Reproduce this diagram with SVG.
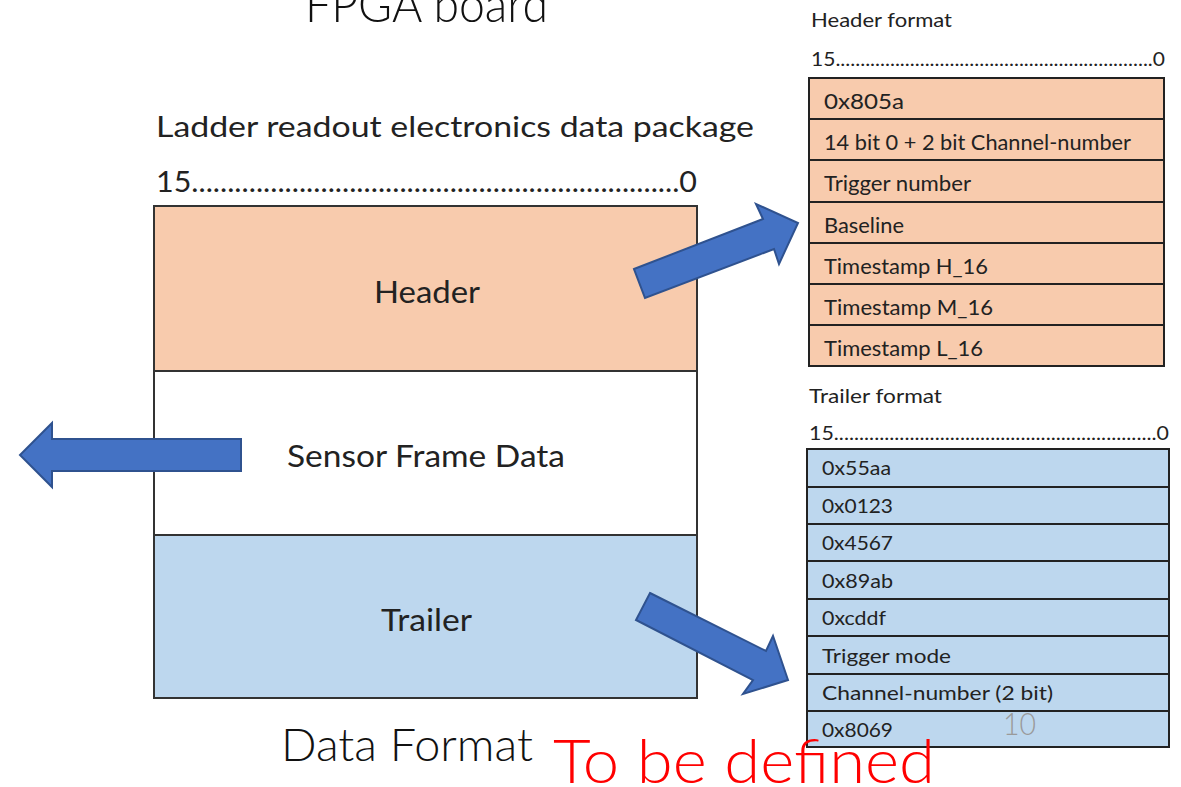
<svg xmlns="http://www.w3.org/2000/svg" width="1181" height="787" viewBox="0 0 1181 787">
<style>
.t{font-family:Lato,"Noto Sans","Liberation Sans",sans-serif;fill:#222}
.lt{font-family:Lato,"Noto Sans","Liberation Sans",sans-serif;font-weight:300;fill:#111}
.box{stroke:#333;stroke-width:2}
.hdr{fill:#F8CBAD}
.trl{fill:#BDD7EE}
.row{stroke:#222;stroke-width:2}
.arrow{fill:#4472C4;stroke:#2F528F;stroke-width:2;stroke-linejoin:miter}
.cell{font-size:21px}
.tcell{font-size:20px}
</style>
<rect width="1181" height="787" fill="#fff"/>
<text class="lt" x="305" y="22" font-size="50" textLength="243" lengthAdjust="spacingAndGlyphs">FPGA board</text>

<g id="package">
<text class="t" x="156" y="137" font-size="29" textLength="598" lengthAdjust="spacingAndGlyphs">Ladder readout electronics data package</text>
<text class="t" x="156" y="192" font-size="29" textLength="541" lengthAdjust="spacingAndGlyphs">15....................................................................0</text>
<g id="header">
<rect class="box hdr" x="154" y="206" width="543" height="165"/>
<text class="t" x="374" y="303" font-size="30" textLength="106" lengthAdjust="spacingAndGlyphs">Header</text>
</g>
<g id="sensor">
<rect class="box" fill="#fff" x="154" y="371" width="543" height="164"/>
<text class="t" x="287" y="467" font-size="30" textLength="278" lengthAdjust="spacingAndGlyphs">Sensor Frame Data</text>
</g>
<g id="trailer">
<rect class="box trl" x="154" y="535" width="543" height="163"/>
<text class="t" x="381" y="631" font-size="30" textLength="91" lengthAdjust="spacingAndGlyphs">Trailer</text>
</g>
</g>

<g id="header-format">
<text class="t" x="811" y="27" font-size="20" textLength="141" lengthAdjust="spacingAndGlyphs">Header format</text>
<text class="t" x="811" y="66" font-size="20" textLength="354" lengthAdjust="spacingAndGlyphs">15................................................................0</text>
<rect class="row hdr" x="809" y="78" width="355" height="41"/>
<rect class="row hdr" x="809" y="119" width="355" height="41"/>
<rect class="row hdr" x="809" y="160" width="355" height="42"/>
<rect class="row hdr" x="809" y="202" width="355" height="41"/>
<rect class="row hdr" x="809" y="243" width="355" height="41"/>
<rect class="row hdr" x="809" y="284" width="355" height="41"/>
<rect class="row hdr" x="809" y="325" width="355" height="41"/>
<text class="t cell" x="824" y="109" textLength="80" lengthAdjust="spacingAndGlyphs">0x805a</text>
<text class="t cell" x="824" y="150" textLength="307" lengthAdjust="spacingAndGlyphs">14 bit 0 + 2 bit Channel-number</text>
<text class="t cell" x="824" y="191" textLength="147" lengthAdjust="spacingAndGlyphs">Trigger number</text>
<text class="t cell" x="824" y="233" textLength="80" lengthAdjust="spacingAndGlyphs">Baseline</text>
<text class="t cell" x="824" y="274" textLength="164" lengthAdjust="spacingAndGlyphs">Timestamp H_16</text>
<text class="t cell" x="824" y="315" textLength="169" lengthAdjust="spacingAndGlyphs">Timestamp M_16</text>
<text class="t cell" x="824" y="356" textLength="159" lengthAdjust="spacingAndGlyphs">Timestamp L_16</text>
</g>

<g id="trailer-format">
<text class="t" x="809" y="403" font-size="20" textLength="133" lengthAdjust="spacingAndGlyphs">Trailer format</text>
<text class="t" x="809" y="440" font-size="20" textLength="360" lengthAdjust="spacingAndGlyphs">15................................................................0</text>
<rect class="row trl" x="807" y="449" width="362" height="38"/>
<rect class="row trl" x="807" y="487" width="362" height="37"/>
<rect class="row trl" x="807" y="524" width="362" height="37"/>
<rect class="row trl" x="807" y="561" width="362" height="38"/>
<rect class="row trl" x="807" y="599" width="362" height="37"/>
<rect class="row trl" x="807" y="636" width="362" height="38"/>
<rect class="row trl" x="807" y="674" width="362" height="37"/>
<rect class="row trl" x="807" y="711" width="362" height="36"/>
<text class="t tcell" x="822" y="475" textLength="69" lengthAdjust="spacingAndGlyphs">0x55aa</text>
<text class="t tcell" x="822" y="513" textLength="71" lengthAdjust="spacingAndGlyphs">0x0123</text>
<text class="t tcell" x="822" y="550" textLength="71" lengthAdjust="spacingAndGlyphs">0x4567</text>
<text class="t tcell" x="822" y="588" textLength="71" lengthAdjust="spacingAndGlyphs">0x89ab</text>
<text class="t tcell" x="822" y="625" textLength="64" lengthAdjust="spacingAndGlyphs">0xcddf</text>
<text class="t tcell" x="822" y="663" textLength="129" lengthAdjust="spacingAndGlyphs">Trigger mode</text>
<text class="t tcell" x="822" y="700" textLength="231" lengthAdjust="spacingAndGlyphs">Channel-number (2 bit)</text>
<text class="t tcell" x="822" y="737" textLength="71" lengthAdjust="spacingAndGlyphs">0x8069</text>
</g>

<g id="connectors">
<polygon class="arrow" points="241,439 52,439 52,423 20,455 52,487 52,471 241,471"/>
<polygon class="arrow" points="634,269 763,219 756,204 798,223 779,264 774,249 645,298"/>
<polygon class="arrow" points="650,593 766,651 773,636 788,680 743,694 753,680 636,620"/>
</g>

<text class="lt" x="1003" y="735" font-size="32" fill="#9A9A9A" style="fill:#9A9A9A" textLength="33" lengthAdjust="spacingAndGlyphs">10</text>
<text class="lt" x="281" y="761" font-size="46" textLength="252" lengthAdjust="spacingAndGlyphs">Data Format</text>
<text class="lt" x="553" y="783" font-size="62" style="fill:#FF0000" textLength="382" lengthAdjust="spacingAndGlyphs">To be defined</text>
</svg>
